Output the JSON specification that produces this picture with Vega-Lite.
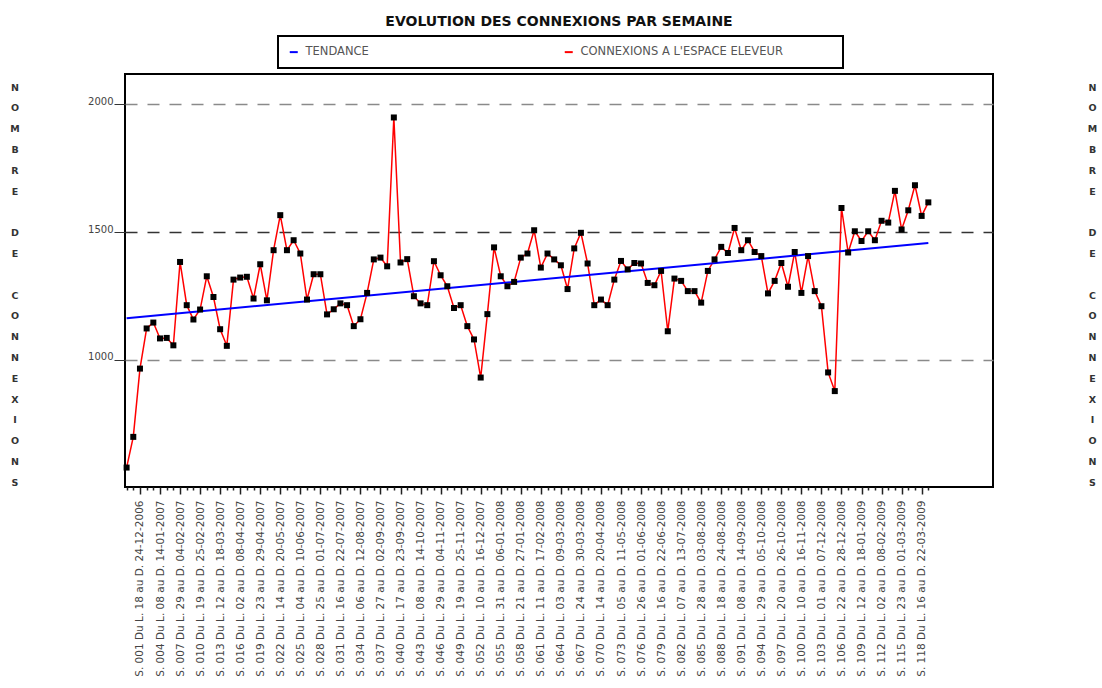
{
  "$schema": "https://vega.github.io/schema/vega-lite/v6.json",
  "width": 868,
  "height": 413,
  "autosize": {"type": "none"},
  "padding": {"left": 125, "top": 74, "right": 109, "bottom": 201},
  "background": "white",
  "config": {
    "view": {"stroke": "black", "strokeWidth": 2},
    "font": "DejaVu Sans"
  },
  "title": {
    "text": "EVOLUTION DES CONNEXIONS PAR SEMAINE",
    "font": "DejaVu Sans",
    "fontSize": 14,
    "fontWeight": "bold",
    "color": "#111",
    "anchor": "middle",
    "frame": "group",
    "offset": 6
  },
  "datasets": {
    "connexions": [
      {"rang": 1, "connexions": 579}, {"rang": 2, "connexions": 699}, {"rang": 3, "connexions": 966},
      {"rang": 4, "connexions": 1123}, {"rang": 5, "connexions": 1146}, {"rang": 6, "connexions": 1084},
      {"rang": 7, "connexions": 1086}, {"rang": 8, "connexions": 1057}, {"rang": 9, "connexions": 1383},
      {"rang": 10, "connexions": 1214}, {"rang": 11, "connexions": 1158}, {"rang": 12, "connexions": 1197},
      {"rang": 13, "connexions": 1327}, {"rang": 14, "connexions": 1246}, {"rang": 15, "connexions": 1120},
      {"rang": 16, "connexions": 1055}, {"rang": 17, "connexions": 1314}, {"rang": 18, "connexions": 1322},
      {"rang": 19, "connexions": 1325}, {"rang": 20, "connexions": 1240}, {"rang": 21, "connexions": 1374},
      {"rang": 22, "connexions": 1233}, {"rang": 23, "connexions": 1429}, {"rang": 24, "connexions": 1566},
      {"rang": 25, "connexions": 1429}, {"rang": 26, "connexions": 1468}, {"rang": 27, "connexions": 1416},
      {"rang": 28, "connexions": 1236}, {"rang": 29, "connexions": 1335}, {"rang": 30, "connexions": 1335},
      {"rang": 31, "connexions": 1178}, {"rang": 32, "connexions": 1198}, {"rang": 33, "connexions": 1221},
      {"rang": 34, "connexions": 1214}, {"rang": 35, "connexions": 1132}, {"rang": 36, "connexions": 1159},
      {"rang": 37, "connexions": 1262}, {"rang": 38, "connexions": 1393}, {"rang": 39, "connexions": 1400},
      {"rang": 40, "connexions": 1366}, {"rang": 41, "connexions": 1948}, {"rang": 42, "connexions": 1381},
      {"rang": 43, "connexions": 1394}, {"rang": 44, "connexions": 1249}, {"rang": 45, "connexions": 1221},
      {"rang": 46, "connexions": 1214}, {"rang": 47, "connexions": 1386}, {"rang": 48, "connexions": 1331},
      {"rang": 49, "connexions": 1288}, {"rang": 50, "connexions": 1203}, {"rang": 51, "connexions": 1214},
      {"rang": 52, "connexions": 1132}, {"rang": 53, "connexions": 1080}, {"rang": 54, "connexions": 931},
      {"rang": 55, "connexions": 1179}, {"rang": 56, "connexions": 1440}, {"rang": 57, "connexions": 1327},
      {"rang": 58, "connexions": 1288}, {"rang": 59, "connexions": 1305}, {"rang": 60, "connexions": 1400},
      {"rang": 61, "connexions": 1416}, {"rang": 62, "connexions": 1507}, {"rang": 63, "connexions": 1361},
      {"rang": 64, "connexions": 1416}, {"rang": 65, "connexions": 1393}, {"rang": 66, "connexions": 1370},
      {"rang": 67, "connexions": 1277}, {"rang": 68, "connexions": 1436}, {"rang": 69, "connexions": 1497},
      {"rang": 70, "connexions": 1377}, {"rang": 71, "connexions": 1214}, {"rang": 72, "connexions": 1236},
      {"rang": 73, "connexions": 1214}, {"rang": 74, "connexions": 1314}, {"rang": 75, "connexions": 1387},
      {"rang": 76, "connexions": 1354}, {"rang": 77, "connexions": 1379}, {"rang": 78, "connexions": 1377},
      {"rang": 79, "connexions": 1301}, {"rang": 80, "connexions": 1292}, {"rang": 81, "connexions": 1348},
      {"rang": 82, "connexions": 1112}, {"rang": 83, "connexions": 1318}, {"rang": 84, "connexions": 1309},
      {"rang": 85, "connexions": 1269}, {"rang": 86, "connexions": 1269}, {"rang": 87, "connexions": 1224},
      {"rang": 88, "connexions": 1348}, {"rang": 89, "connexions": 1393}, {"rang": 90, "connexions": 1442},
      {"rang": 91, "connexions": 1418}, {"rang": 92, "connexions": 1516}, {"rang": 93, "connexions": 1429},
      {"rang": 94, "connexions": 1468}, {"rang": 95, "connexions": 1422}, {"rang": 96, "connexions": 1406},
      {"rang": 97, "connexions": 1260}, {"rang": 98, "connexions": 1309}, {"rang": 99, "connexions": 1379},
      {"rang": 100, "connexions": 1286}, {"rang": 101, "connexions": 1422}, {"rang": 102, "connexions": 1262},
      {"rang": 103, "connexions": 1406}, {"rang": 104, "connexions": 1269}, {"rang": 105, "connexions": 1210},
      {"rang": 106, "connexions": 951}, {"rang": 107, "connexions": 878}, {"rang": 108, "connexions": 1594},
      {"rang": 109, "connexions": 1420}, {"rang": 110, "connexions": 1503}, {"rang": 111, "connexions": 1465},
      {"rang": 112, "connexions": 1503}, {"rang": 113, "connexions": 1468}, {"rang": 114, "connexions": 1544},
      {"rang": 115, "connexions": 1537}, {"rang": 116, "connexions": 1661}, {"rang": 117, "connexions": 1510},
      {"rang": 118, "connexions": 1585}, {"rang": 119, "connexions": 1683}, {"rang": 120, "connexions": 1563},
      {"rang": 121, "connexions": 1616}
    ],
    "tendance": [
      {"rang": 1, "tendance": 1163},
      {"rang": 121, "tendance": 1457}
    ]
  },
  "encoding": {
    "x": {
      "field": "rang",
      "type": "quantitative",
      "scale": {"domain": [0.76, 130.68], "nice": false, "zero": false},
      "axis": {
        "title": null,
        "values": [1,2,3,4,5,6,7,8,9,10,11,12,13,14,15,16,17,18,19,20,21,22,23,24,25,26,27,28,29,30,31,32,33,34,35,36,37,38,39,40,41,42,43,44,45,46,47,48,49,50,51,52,53,54,55,56,57,58,59,60,61,62,63,64,65,66,67,68,69,70,71,72,73,74,75,76,77,78,79,80,81,82,83,84,85,86,87,88,89,90,91,92,93,94,95,96,97,98,99,100,101,102,103,104,105,106,107,108,109,110,111,112,113,114,115,116,117,118,119,120,121],
        "labelExpr": "datum.value % 3 == 0 ? ['S. 001 Du L. 18 au D. 24-12-2006','S. 004 Du L. 08 au D. 14-01-2007','S. 007 Du L. 29 au D. 04-02-2007','S. 010 Du L. 19 au D. 25-02-2007','S. 013 Du L. 12 au D. 18-03-2007','S. 016 Du L. 02 au D. 08-04-2007','S. 019 Du L. 23 au D. 29-04-2007','S. 022 Du L. 14 au D. 20-05-2007','S. 025 Du L. 04 au D. 10-06-2007','S. 028 Du L. 25 au D. 01-07-2007','S. 031 Du L. 16 au D. 22-07-2007','S. 034 Du L. 06 au D. 12-08-2007','S. 037 Du L. 27 au D. 02-09-2007','S. 040 Du L. 17 au D. 23-09-2007','S. 043 Du L. 08 au D. 14-10-2007','S. 046 Du L. 29 au D. 04-11-2007','S. 049 Du L. 19 au D. 25-11-2007','S. 052 Du L. 10 au D. 16-12-2007','S. 055 Du L. 31 au D. 06-01-2008','S. 058 Du L. 21 au D. 27-01-2008','S. 061 Du L. 11 au D. 17-02-2008','S. 064 Du L. 03 au D. 09-03-2008','S. 067 Du L. 24 au D. 30-03-2008','S. 070 Du L. 14 au D. 20-04-2008','S. 073 Du L. 05 au D. 11-05-2008','S. 076 Du L. 26 au D. 01-06-2008','S. 079 Du L. 16 au D. 22-06-2008','S. 082 Du L. 07 au D. 13-07-2008','S. 085 Du L. 28 au D. 03-08-2008','S. 088 Du L. 18 au D. 24-08-2008','S. 091 Du L. 08 au D. 14-09-2008','S. 094 Du L. 29 au D. 05-10-2008','S. 097 Du L. 20 au D. 26-10-2008','S. 100 Du L. 10 au D. 16-11-2008','S. 103 Du L. 01 au D. 07-12-2008','S. 106 Du L. 22 au D. 28-12-2008','S. 109 Du L. 12 au D. 18-01-2009','S. 112 Du L. 02 au D. 08-02-2009','S. 115 Du L. 23 au D. 01-03-2009','S. 118 Du L. 16 au D. 22-03-2009'][datum.value / 3 - 1] : ''",
        "labelAngle": 270,
        "labelFont": "DejaVu Sans",
        "labelFontSize": 10.5,
        "labelColor": "#444",
        "labelOverlap": false,
        "labelFlush": false,
        "labelLimit": 400,
        "labelPadding": 6,
        "tickSize": {"condition": {"test": "datum.value % 3 == 0", "value": 7}, "value": 3},
        "tickColor": "#222",
        "tickWidth": 1.5,
        "domain": false,
        "grid": false
      }
    }
  },
  "resolve": {"axis": {"y": "independent"}},
  "layer": [
    {
      "data": {"name": "connexions"},
      "mark": {"type": "line", "strokeWidth": 1.5},
      "encoding": {
        "y": {
          "field": "connexions",
          "type": "quantitative",
          "scale": {"domain": [503, 2118], "nice": false, "zero": false},
          "axis": {
            "values": [1000, 1500, 2000],
            "format": "d",
            "grid": true,
            "gridDash": [12, 10],
            "gridColor": {"condition": {"test": "datum.value == 1500", "value": "#333333"}, "value": "#8a8a8a"},
            "gridWidth": 1.5,
            "domain": false,
            "ticks": true,
            "tickSize": 11,
            "tickColor": "#333",
            "labelFont": "DejaVu Sans",
            "labelFontSize": 10,
            "labelColor": "#444",
            "labelBaseline": "alphabetic",
            "labelPadding": 1,
            "title": ["N","O","M","B","R","E","\u200b","D","E","\u200b","C","O","N","N","E","X","I","O","N","S"],
            "titleAngle": 0,
            "titleX": -110.5,
            "titleY": 16,
            "titleAlign": "center",
            "titleBaseline": "alphabetic",
            "titleFont": "DejaVu Sans",
            "titleFontSize": 9.5,
            "titleFontWeight": "bold",
            "titleColor": "#333",
            "titleLineHeight": 20.8
          }
        },
        "color": {
          "datum": "CONNEXIONS A L'ESPACE ELEVEUR",
          "type": "nominal",
          "scale": {"domain": ["TENDANCE", "CONNEXIONS A L'ESPACE ELEVEUR"], "range": ["#0000ff", "#ff0000"]},
          "legend": {
            "title": "\u00a0\u00a0\u00a0",
            "titleOrient": "right",
            "titlePadding": 50,
            "titleFontSize": 11.5,
            "orient": "none",
            "legendX": 153,
            "legendY": -38,
            "direction": "horizontal",
            "columnPadding": 191,
            "symbolType": "stroke",
            "symbolSize": 64,
            "symbolStrokeWidth": 2,
            "labelFont": "DejaVu Sans",
            "labelFontSize": 11.5,
            "labelColor": "#555",
            "labelOffset": 6,
            "labelLimit": 500,
            "padding": 10,
            "strokeColor": "black",
            "fillColor": "white",
            "encode": {"legend": {"update": {"strokeWidth": {"value": 2}}}}
          }
        }
      }
    },
    {
      "data": {"name": "tendance"},
      "mark": {"type": "line", "strokeWidth": 2},
      "encoding": {
        "y": {"field": "tendance", "type": "quantitative", "axis": null},
        "color": {"datum": "TENDANCE", "type": "nominal"}
      }
    },
    {
      "data": {"name": "connexions"},
      "mark": {"type": "point", "shape": "square", "filled": true, "size": 36, "color": "black", "opacity": 1},
      "encoding": {
        "y": {
          "field": "connexions",
          "type": "quantitative",
          "axis": {
            "orient": "right",
            "ticks": false,
            "labels": false,
            "domain": false,
            "grid": false,
            "title": ["N","O","M","B","R","E","\u200b","D","E","\u200b","C","O","N","N","E","X","I","O","N","S"],
            "titleAngle": 0,
            "titleX": 99,
            "titleY": 16,
            "titleAlign": "center",
            "titleBaseline": "alphabetic",
            "titleFont": "DejaVu Sans",
            "titleFontSize": 9.5,
            "titleFontWeight": "bold",
            "titleColor": "#333",
            "titleLineHeight": 20.8
          }
        }
      }
    }
  ]
}
